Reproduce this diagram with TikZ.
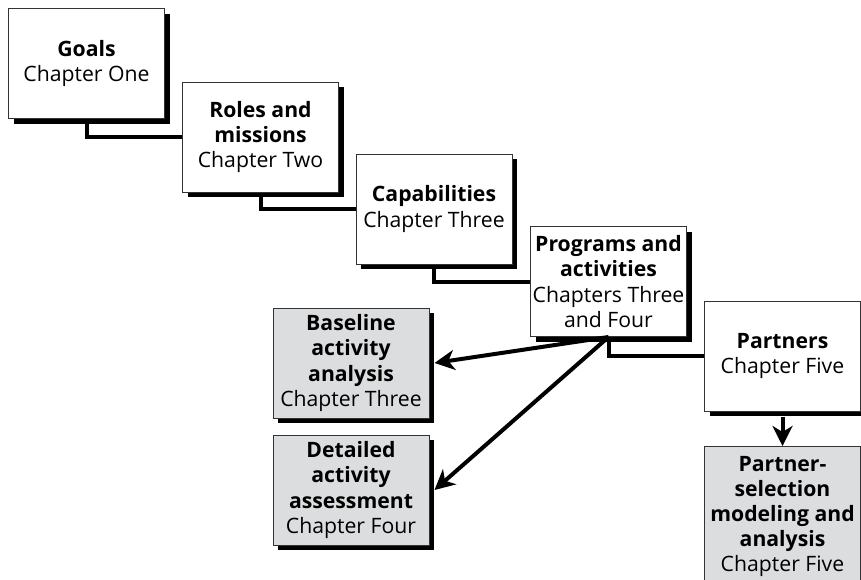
\documentclass[tikz,border=0pt]{standalone}
\usepackage{fontspec}
\setmainfont{Open Sans}
\usetikzlibrary{shadows,arrows.meta}
\definecolor{boxgrey}{RGB}{220,221,222}
\tikzset{
  chapbox/.style={draw=black!80, line width=0.5pt, fill=white, align=center,
    minimum width=78pt, minimum height=55pt, inner sep=1pt,
    font=\fontsize{10.6}{12.6}\selectfont,
    drop shadow={fill=black, opacity=1, shadow xshift=2.5pt, shadow yshift=-2.5pt}},
  greybox/.style={chapbox, fill=boxgrey},
  link/.style={line width=2pt},
  pointer/.style={line width=2pt, -{Stealth[length=10pt,width=10pt,inset=3pt]}}
}
\begin{document}
\begin{tikzpicture}[x=0.5pt,y=-0.5pt]
      \useasboundingbox (0,0) rectangle (861,579);

      \node[chapbox] (goals) at (86.5,63.5) {\textbf{Goals}\\Chapter One};
      \node[chapbox] (roles) at (260.5,137) {\textbf{Roles and}\\\textbf{missions}\\Chapter Two};
      \node[chapbox] (caps) at (434,209) {\textbf{Capabilities}\\Chapter Three};
      \node[chapbox] (prog) at (608.5,281.5) {\textbf{Programs and}\\\textbf{activities}\\Chapters Three\\and Four};
      \node[chapbox] (partners) at (782.5,356) {\textbf{Partners}\\Chapter Five};

      \node[greybox] (base) at (351,363) {\textbf{Baseline}\\\textbf{activity}\\\textbf{analysis}\\Chapter Three};
      \node[greybox] (detail) at (351,490) {\textbf{Detailed}\\\textbf{activity}\\\textbf{assessment}\\Chapter Four};
      \node[greybox, minimum height=70pt, anchor=north] (select) at (782.5,446) {\textbf{Partner-}\\\textbf{selection}\\\textbf{modeling and}\\\textbf{analysis}\\Chapter Five};

      \draw[link] (goals.south) |- (roles.west)
                  (roles.south) |- (caps.west)
                  (caps.south) |- (prog.west)
                  (prog.south) |- (partners.west);

      \draw[pointer] (prog.south) -- ([xshift=2.5pt]base.east);
      \draw[pointer] (prog.south) -- ([xshift=2.5pt]detail.east);
      \draw[pointer] ([yshift=-2.5pt]partners.south) -- (select.north);
    \end{tikzpicture}
\end{document}
